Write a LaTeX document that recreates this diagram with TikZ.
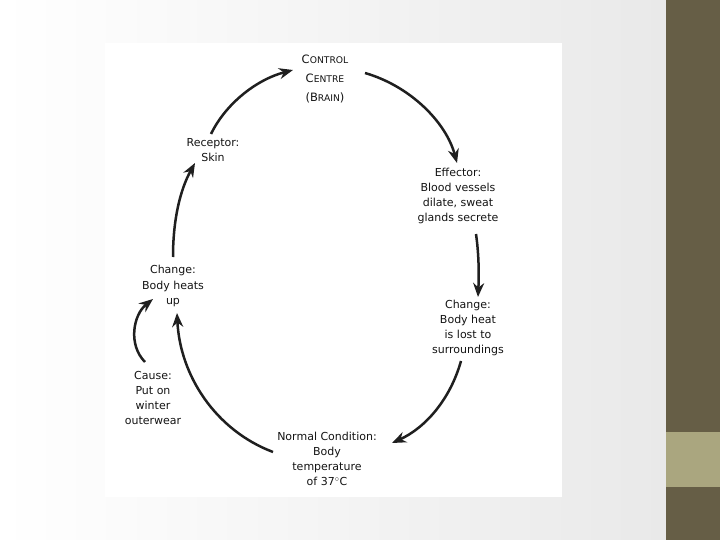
\documentclass[tikz,border=0pt]{standalone}
\usepackage{fontspec}
\setmainfont{DejaVu Sans}
\usetikzlibrary{arrows.meta}
\definecolor{barDark}{HTML}{665E46}
\definecolor{barLight}{HTML}{AAA67F}
\definecolor{bgGrey}{HTML}{E9E9E9}
\definecolor{txt}{HTML}{141414}
\newcommand{\smc}[1]{{\fontsize{9.2}{10}\selectfont #1}}
\tikzset{
  lbl/.style={align=center, font=\fontsize{11}{15.2}\selectfont, text=txt, inner sep=0pt},
  cyc/.style={line width=2.5pt, draw=black!88, -{Stealth[length=14pt,width=11pt]}}
}
\begin{document}
\begin{tikzpicture}[x=1pt,y=-1pt]
\useasboundingbox (0,0) rectangle (720,540);
% background
\shade[left color=white, right color=bgGrey] (0,0) rectangle (666,540);
\fill[white] (105,43) rectangle (562,497);
\fill[barDark] (666,0) rectangle (720,540);
\fill[barLight] (666,432) rectangle (720,487);
% nodes
\node[lbl, font=\fontsize{11.5}{15.2}\selectfont] (cc) at (325,79) {C\smc{ONTROL}\\[4pt]C\smc{ENTRE}\\[4pt](B\smc{RAIN})};
\node[lbl] (eff) at (458,196) {Effector:\\Blood vessels\\dilate, sweat\\glands secrete};
\node[lbl] (lost) at (468,328) {Change:\\Body heat\\is lost to\\surroundings};
\node[lbl] (norm) at (327,459) {Normal Condition:\\Body\\temperature\\of 37$^\circ$C};
\node[lbl] (cause) at (153,398) {Cause:\\Put on\\winter\\outerwear};
\node[lbl] (up) at (173,286) {Change:\\Body heats\\up};
\node[lbl] (rec) at (213,150) {Receptor:\\Skin};
% connector end points
\coordinate (a1) at (365,73);  \coordinate (b1) at (457,163);
\coordinate (a2) at (476,234); \coordinate (b2) at (478,297);
\coordinate (a3) at (461,361); \coordinate (b3) at (392,443);
\coordinate (a4) at (273,452); \coordinate (b4) at (177,313);
\coordinate (a5) at (145,362); \coordinate (b5) at (153,299);
\coordinate (a6) at (173,257); \coordinate (b6) at (195,163);
\coordinate (a7) at (211,134); \coordinate (b7) at (293,70);
% connectors
\draw[cyc] (a1) .. controls (410,86) and (446,122) .. (b1);
\draw[cyc] (a2) .. controls (479,255) and (479,275) .. (b2);
\draw[cyc] (a3) .. controls (450,400) and (425,428) .. (b3);
\draw[cyc] (a4) .. controls (215,430) and (180,375) .. (b4);
\draw[cyc] (a5) .. controls (128,345) and (133,315) .. (b5);
\draw[cyc] (a6) .. controls (173,220) and (180,190) .. (b6);
\draw[cyc] (a7) .. controls (225,105) and (255,80) .. (b7);
\end{tikzpicture}
\end{document}
